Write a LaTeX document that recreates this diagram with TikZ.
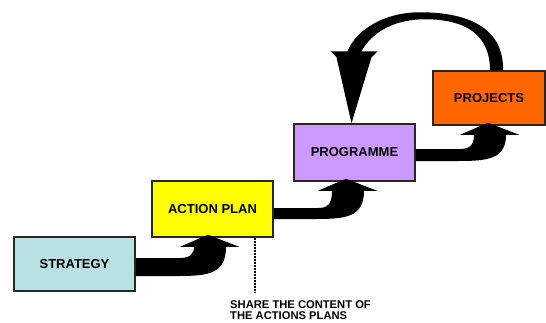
\documentclass[tikz,border=0pt]{standalone}
\usepackage{fontspec}
\setmainfont{Liberation Sans}
\definecolor{strategyblue}{RGB}{185,224,226}
\definecolor{planyellow}{RGB}{255,255,0}
\definecolor{progviolet}{RGB}{204,153,255}
\definecolor{projorange}{RGB}{255,102,0}

% #1 from, #2 to, #3 shaft thickness, #4 shaft offset, #5 tip offset
\newcommand{\stairarrow}[5]{%
  \coordinate (s) at ([shift={(0,#4)}]#1.east);
  \coordinate (t) at ([shift={(#5,-3)}]#2.south);
  \coordinate (k) at (t |- s);
  \fill ([shift={(0,-#3/2)}]s) -- ([shift={(-28,-#3/2)}]k)
    .. controls ([shift={(-18,-#3/2)}]k) and ([shift={(-14,-#3/2-4)}]k) .. ([shift={(-14,12)}]t)
    -- ([shift={(-28,12)}]t) -- (t) -- ([shift={(31,12)}]t) -- ([shift={(18,12)}]t)
    .. controls ([shift={(18,#3/2-2)}]k) and ([shift={(0,#3/2)}]k) .. ([shift={(-30,#3/2)}]k)
    -- ([shift={(0,#3/2)}]s) -- cycle;
}

\begin{document}
\begin{tikzpicture}[x=1pt,y=-1pt]
        \tikzstyle{stage}=[draw=black!85,line width=1.5pt,inner sep=0pt,minimum width=121pt,font=\fontsize{13}{15}\selectfont\bfseries]

        \useasboundingbox (0,0) rectangle (546,322);

        \node (strategy)[stage,fill=strategyblue,minimum height=54pt] at (74.5,264) {STRATEGY};
        \node (action)[stage,fill=planyellow,minimum height=56pt] at (212.5,209) {ACTION PLAN};
        \node (programme)[stage,fill=progviolet,minimum height=57pt] at (354.5,152.5) {PROGRAMME};
        \node (projects)[stage,fill=projorange,minimum width=112pt,minimum height=54pt] at (489,98) {PROJECTS};

        \node (share)[anchor=north west,align=left,inner xsep=0pt,inner ysep=7pt,font=\fontsize{11.2}{11.8}\selectfont\bfseries] at (230,293) {SHARE THE CONTENT OF\\THE ACTIONS PLANS};

        \stairarrow{strategy}{action}{18}{3}{-4.5}
        \stairarrow{action}{programme}{11}{4.5}{-8.5}
        \stairarrow{programme}{projects}{12}{2.5}{-1}

        % loop back from projects to programme
        \coordinate (lr) at (projects.north);
        \coordinate (lt) at ([shift={(-3,0)}]programme.north);
        \fill ([shift={(14,0)}]lr) .. controls ([shift={(15,-41)}]lr) and ([shift={(-19,-58)}]lr) .. ([shift={(-69,-58)}]lr)
          .. controls ([shift={(-104,-58)}]lr) and ([shift={(5,-94)}]lt) .. ([shift={(-4,-72)}]lt)
          -- ([shift={(-21,-72)}]lt) -- ([shift={(-15,-66)}]lt) -- (lt) -- ([shift={(20,-66)}]lt)
          -- ([shift={(26,-72)}]lt) -- ([shift={(10,-72)}]lt)
          .. controls ([shift={(21,-92)}]lt) and ([shift={(44,-104)}]lt) .. ([shift={(-64,-51)}]lr)
          .. controls ([shift={(-24,-51)}]lr) and ([shift={(1,-36)}]lr) .. ([shift={(1,0)}]lr) -- cycle;

        \coordinate (d) at ([xshift=42.5pt]action.south);
        \draw[line width=1.2pt,dash pattern=on 2pt off 1pt] (d) -- (d |- share.north);
\end{tikzpicture}
\end{document}
